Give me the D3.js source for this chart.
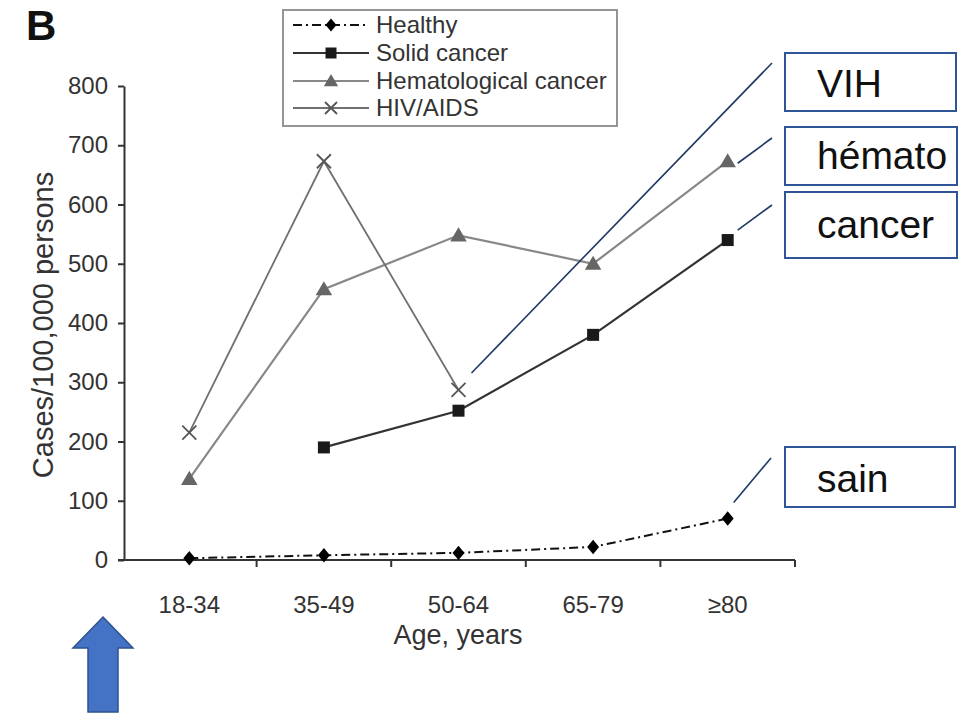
<!DOCTYPE html>
<html>
<head>
<meta charset="utf-8">
<script src="https://cdn.jsdelivr.net/npm/d3@7"></script>
<style>
  html, body { margin: 0; padding: 0; background: #fff; }
  svg { display: block; }
  text { font-family: "Liberation Sans", Arial, sans-serif; }
</style>
</head>
<body>
<svg id="chart" width="966" height="714"></svg>
<script>
// ---- data ----
const categories = ["18-34", "35-49", "50-64", "65-79", "≥80"];
const healthy = [3, 8, 12, 22, 70];
const solidCancer = [null, 190, 252, 380, 540];
const hematoCancer = [137, 457, 548, 500, 673];
const hivAids = [215, 673, 287, null, null];
const yTicks = [0, 100, 200, 300, 400, 500, 600, 700, 800];
const legendLabels = ["Healthy", "Solid cancer", "Hematological cancer", "HIV/AIDS"];
const calloutLabels = ["VIH", "hémato", "cancer", "sain"];
const yAxisTitle = "Cases/100,000 persons";
const xAxisTitle = "Age, years";
const panelLabel = "B";

// ---- setup ----
const svg = d3.select("#chart");
const axisColor = "#333";
const x = d3.scalePoint().domain(categories).range([122, 795]).padding(0.5);
const y = d3.scaleLinear().domain([0, 800]).range([560, 86]);
const step = x.step();

// panel label
svg.append("text").attr("x", 26).attr("y", 40)
  .attr("font-size", 42).attr("font-weight", "bold").attr("fill", "#111")
  .text(panelLabel);

// y axis
const yAxis = d3.axisLeft(y).tickValues(yTicks).tickSize(6).tickPadding(10).tickSizeOuter(0);
const gy = svg.append("g").attr("transform", "translate(124,0)").call(yAxis);
gy.select(".domain").attr("stroke", axisColor).attr("stroke-width", 2);
gy.selectAll(".tick line").attr("stroke", axisColor).attr("stroke-width", 2);
gy.selectAll(".tick text").attr("font-size", 24).attr("fill", "#333")
  .attr("font-family", "Liberation Sans, Arial, sans-serif");

// x axis: line with boundary ticks, labels at centres
const gx = svg.append("g");
gx.append("line").attr("x1", 118).attr("x2", x(categories[categories.length - 1]) + step / 2)
  .attr("y1", y(0)).attr("y2", y(0)).attr("stroke", axisColor).attr("stroke-width", 2);
gx.selectAll("line.bt").data(categories).join("line").attr("class", "bt")
  .attr("x1", d => x(d) + step / 2).attr("x2", d => x(d) + step / 2)
  .attr("y1", y(0)).attr("y2", y(0) + 7).attr("stroke", axisColor).attr("stroke-width", 2);
gx.selectAll("text").data(categories).join("text")
  .attr("x", d => x(d)).attr("y", 613).attr("text-anchor", "middle")
  .attr("font-size", 24).attr("fill", "#333").text(d => d);

// axis titles
svg.append("text").attr("x", 458).attr("y", 644).attr("text-anchor", "middle")
  .attr("font-size", 27).attr("fill", "#333").text(xAxisTitle);
svg.append("text").attr("transform", "translate(53,325) rotate(-90)")
  .attr("text-anchor", "middle").attr("font-size", 29).attr("fill", "#333").text(yAxisTitle);

// series definitions
const series = [
  { name: legendLabels[0], values: healthy, color: "#111", width: 2, dash: "9,4,2,4", marker: "diamond", mcolor: "#000" },
  { name: legendLabels[1], values: solidCancer, color: "#333", width: 2.2, dash: null, marker: "square", mcolor: "#1a1a1a" },
  { name: legendLabels[2], values: hematoCancer, color: "#888", width: 2.2, dash: null, marker: "triangle", mcolor: "#666" },
  { name: legendLabels[3], values: hivAids, color: "#707070", width: 1.8, dash: null, marker: "cross", mcolor: "#555" }
];

function drawMarker(g, type, cx, cy, color, s) {
  if (type === "diamond") {
    g.append("path").attr("d", `M${cx},${cy - s * 0.6}L${cx + s * 0.5},${cy}L${cx},${cy + s * 0.6}L${cx - s * 0.5},${cy}Z`).attr("fill", color);
  } else if (type === "square") {
    g.append("rect").attr("x", cx - s / 2).attr("y", cy - s / 2).attr("width", s).attr("height", s).attr("fill", color);
  } else if (type === "triangle") {
    const h = s * 0.9;
    g.append("path").attr("d", `M${cx},${cy - h * 0.6}L${cx + s * 0.55},${cy + h * 0.45}L${cx - s * 0.55},${cy + h * 0.45}Z`).attr("fill", color);
  } else if (type === "cross") {
    const r = s / 2;
    g.append("path").attr("d", `M${cx - r},${cy - r}L${cx + r},${cy + r}M${cx - r},${cy + r}L${cx + r},${cy - r}`)
      .attr("stroke", color).attr("stroke-width", 1.8).attr("fill", "none");
  }
}

const line = d3.line().defined(d => d.v != null).x(d => x(d.c)).y(d => y(d.v));
const plot = svg.append("g");
series.forEach(s => {
  const pts = categories.map((c, i) => ({ c, v: s.values[i] }));
  plot.append("path").datum(pts).attr("d", line).attr("fill", "none")
    .attr("stroke", s.color).attr("stroke-width", s.width)
    .attr("stroke-dasharray", s.dash);
  const mg = plot.append("g");
  pts.filter(p => p.v != null).forEach(p => {
    const size = s.marker === "triangle" ? 15 : s.marker === "cross" ? 14 : 12;
    drawMarker(mg, s.marker, x(p.c), y(p.v), s.mcolor, size);
  });
});

// legend
const lg = svg.append("g");
lg.append("rect").attr("x", 283).attr("y", 10).attr("width", 334).attr("height", 116)
  .attr("fill", "#fff").attr("stroke", "#8a8a8a").attr("stroke-width", 1.8);
const rowY = [25, 53, 81, 108];
series.forEach((s, i) => {
  const yy = rowY[i];
  lg.append("line").attr("x1", 293).attr("x2", 369).attr("y1", yy).attr("y2", yy)
    .attr("stroke", s.color).attr("stroke-width", s.width).attr("stroke-dasharray", s.dash);
  const size = s.marker === "triangle" ? 13 : s.marker === "cross" ? 12 : 11;
  drawMarker(lg, s.marker, 331, yy, s.mcolor, size);
  lg.append("text").attr("x", 376).attr("y", yy).attr("dy", "0.35em")
    .attr("font-size", 24).attr("fill", "#333").text(s.name);
});

// callouts (annotations anchored to data points)
const calloutColor = "#1F3864";
const boxStroke = "#2F5597";
const last = categories[categories.length - 1];
const callouts = [
  { label: calloutLabels[0], from: [x(categories[2]) + 13, y(hivAids[2]) - 17], to: [772, 63], box: [785, 53, 171, 58], base: 97 },
  { label: calloutLabels[1], from: [x(last) + 10, y(hematoCancer[4]) + 2], to: [772, 138], box: [785, 127, 172, 58], base: 169 },
  { label: calloutLabels[2], from: [x(last) + 10, y(solidCancer[4]) - 10], to: [772, 205], box: [785, 192, 172, 66], base: 238 },
  { label: calloutLabels[3], from: [x(last) + 6, y(healthy[4]) - 16], to: [771, 458], box: [785, 447, 170, 60], base: 492 }
];
const cg = svg.append("g");
callouts.forEach(c => {
  cg.append("line").attr("x1", c.from[0]).attr("y1", c.from[1]).attr("x2", c.to[0]).attr("y2", c.to[1])
    .attr("stroke", calloutColor).attr("stroke-width", 1.6);
  cg.append("rect").attr("x", c.box[0]).attr("y", c.box[1]).attr("width", c.box[2]).attr("height", c.box[3])
    .attr("fill", "#fff").attr("stroke", boxStroke).attr("stroke-width", 2);
  cg.append("text").attr("x", 817).attr("y", c.base).attr("font-family", "Lato, 'Open Sans', sans-serif")
    .attr("font-size", 39).attr("fill", "#111").text(c.label);
});

// blue arrow
svg.append("path")
  .attr("d", "M103,617 L133,648 L118,648 L118,712 L88,712 L88,648 L73,648 Z")
  .attr("fill", "#4472C4").attr("stroke", "#2F528F").attr("stroke-width", 1.5);
</script>
</body>
</html>
